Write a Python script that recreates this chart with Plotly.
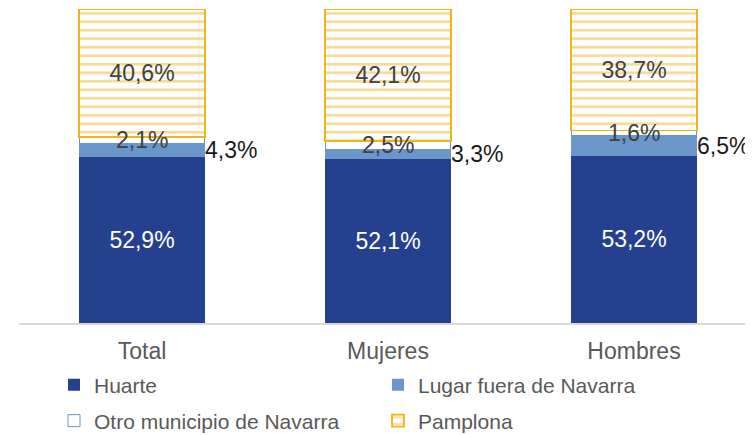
import plotly.graph_objects as go

# data
categorias = ["Total", "Mujeres", "Hombres"]
huarte = [52.9, 52.1, 53.2]
lugar_fuera = [4.3, 3.3, 6.5]
otro_municipio = [2.1, 2.5, 1.6]
pamplona = [40.6, 42.1, 38.7]

AZUL = "#24408E"
AZUL_CLARO = "#6A96C9"
AMARILLO = "#F0B41C"
GRIS = "#595959"
FUENTE = "Liberation Sans, Arial, sans-serif"


def pct(v):
    return f"{v:.1f}%".replace(".", ",")


fig = go.Figure()

fig.add_trace(go.Bar(
    x=categorias, y=huarte, name="Huarte", legend="legend",
    marker=dict(color=AZUL, line=dict(width=0)),
    text=[pct(v) for v in huarte], textposition="inside",
    insidetextanchor="middle", constraintext="none",
    textfont=dict(color="white", size=23, family=FUENTE),
))
fig.add_trace(go.Bar(
    x=categorias, y=lugar_fuera, name="Lugar fuera de Navarra", legend="legend",
    marker=dict(color=AZUL_CLARO, line=dict(width=0)),
    textposition="none",
))
fig.add_trace(go.Bar(
    x=categorias, y=otro_municipio, name="Otro municipio de Navarra", legend="legend2",
    marker=dict(color="white", line=dict(color=AZUL_CLARO, width=1)),
    textposition="none",
))
fig.add_trace(go.Bar(
    x=categorias, y=pamplona, name="Pamplona", legend="legend2",
    marker=dict(color="white", line=dict(color=AMARILLO, width=1.8),
                pattern=dict(shape="-", fgcolor=AMARILLO, bgcolor="white",
                             size=8.5, solidity=0.3)),
    text=[pct(v) for v in pamplona], textposition="inside",
    insidetextanchor="middle", constraintext="none",
    textfont=dict(color="#404040", size=23, family=FUENTE),
))

# etiquetas de los segmentos pequenos
for i, cat in enumerate(categorias):
    base = huarte[i] + lugar_fuera[i]
    fig.add_annotation(x=cat, y=base + otro_municipio[i] / 2, text=pct(otro_municipio[i]),
                       showarrow=False, font=dict(color="#404040", size=23, family=FUENTE))
    fig.add_annotation(x=cat, y=huarte[i] + lugar_fuera[i] / 2, text=pct(lugar_fuera[i]),
                       showarrow=False, xanchor="left", xshift=61,
                       font=dict(color="#1a1a1a", size=23, family=FUENTE))

leyenda = dict(orientation="h", xanchor="left", yanchor="middle", traceorder="normal",
               entrywidth=279, entrywidthmode="pixels",
               font=dict(size=21, color=GRIS, family=FUENTE), bgcolor="rgba(0,0,0,0)")

# la pagina tiene 8px de margen en el body: todo se desplaza 8px
fig.update_layout(
    width=753, height=435,
    margin=dict(l=11, r=4, t=1, b=120),
    barmode="stack", bargap=0.488,
    plot_bgcolor="white", paper_bgcolor="white",
    font=dict(family=FUENTE, color=GRIS),
    xaxis=dict(range=[-0.5, 2.5], showline=True, linecolor="#D9D9D9", linewidth=1.5,
               ticks="", ticklabelstandoff=7, tickfont=dict(size=23, color=GRIS, family=FUENTE),
               showgrid=False, zeroline=False),
    yaxis=dict(range=[0, 100], visible=False),
    legend=dict(leyenda, x=(46 - 11) / 738, y=(314 - 376) / 314),
    legend2=dict(leyenda, x=(46 - 11) / 738, y=(314 - 412) / 314),
    showlegend=True,
)

fig.write_html("out.html")
